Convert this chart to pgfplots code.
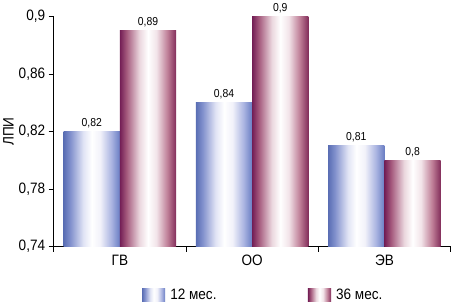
\documentclass[border=0pt]{standalone}
\usepackage{pgfplots}
\pgfplotsset{compat=1.18}
\usepackage{fontspec}
\setmainfont[FakeStretch=0.9]{Liberation Sans}
% bar spans 25bp..75bp of the shading
\pgfdeclarehorizontalshading{blueshade}{100bp}{color(0bp)=(rgb,255:red,90;green,110;blue,180); color(25bp)=(rgb,255:red,90;green,110;blue,180); color(31bp)=(rgb,255:red,130;green,145;blue,205); color(42.5bp)=(rgb,255:red,225;green,228;blue,245); color(50bp)=(white); color(57.5bp)=(rgb,255:red,242;green,242;blue,250); color(67.5bp)=(rgb,255:red,170;green,180;blue,225); color(75bp)=(rgb,255:red,105;green,125;blue,195); color(100bp)=(rgb,255:red,105;green,125;blue,195)}
\pgfdeclarehorizontalshading{purpleshade}{100bp}{color(0bp)=(rgb,255:red,115;green,30;blue,85); color(25bp)=(rgb,255:red,115;green,30;blue,85); color(31bp)=(rgb,255:red,165;green,90;blue,125); color(42.5bp)=(rgb,255:red,235;green,215;blue,222); color(50bp)=(white); color(57.5bp)=(rgb,255:red,242;green,228;blue,233); color(67.5bp)=(rgb,255:red,190;green,125;blue,150); color(75bp)=(rgb,255:red,130;green,45;blue,90); color(100bp)=(rgb,255:red,130;green,45;blue,90)}
\pgfplotsset{
  b12/.style={draw=none, shading=blueshade, bar shift=-0.2125,
    legend image code/.code={\shade[shading=blueshade] (0pt,-6.5pt) rectangle (23pt,6.5pt);}},
  b36/.style={draw=none, shading=purpleshade, bar shift=0.2125,
    legend image code/.code={\shade[shading=purpleshade] (0pt,-6.5pt) rectangle (23pt,6.5pt);}},
}
\begin{document}
\begin{tikzpicture}[font=\fontsize{15}{18}\selectfont]
\begin{axis}[
  scale only axis,
  width=395pt, height=229pt,
  ybar=0pt, bar width=0.425,
  xmin=-0.5, xmax=2.5,
  ymin=0.74, ymax=0.9,
  ytick={0.74,0.78,0.82,0.86,0.9},
  axis lines*=left,
  axis line style={black, line width=0.8pt},
  tick align=outside,
  major tick length=5pt,
  tick style={black, line width=0.8pt},
  xtick={-0.5,0.5,1.5,2.5},
  x tick label as interval,
  xticklabels={ГВ,ОО,ЭВ},
  /pgf/number format/use comma,
  /pgf/number format/assume math mode=true,
  yticklabel style={/pgf/number format/fixed, /pgf/number format/precision=2},
  ylabel={ЛПИ},
  ylabel style={yshift=-2pt},
  legend columns=2,
  legend style={draw=none, at={(0.528,-0.212)}, anchor=center, font=\fontsize{15}{18}\selectfont,
    inner sep=0pt,
    /tikz/every odd column/.append style={column sep=3pt},
    /tikz/every even column/.append style={column sep=89pt}},
  nodes near coords,
  every node near coord/.append style={font=\fontsize{11.5}{13}\selectfont, black},
]
\addplot[b12] coordinates {(0,0.82)};
\addlegendentry{12 мес.}
\addplot[b36] coordinates {(0,0.89)};
\addlegendentry{36 мес.}
\addplot[b12, forget plot] coordinates {(1,0.84)};
\addplot[b36, forget plot] coordinates {(1,0.9)};
\addplot[b12, forget plot] coordinates {(2,0.81)};
\addplot[b36, forget plot] coordinates {(2,0.8)};
\end{axis}
\end{tikzpicture}
\end{document}
